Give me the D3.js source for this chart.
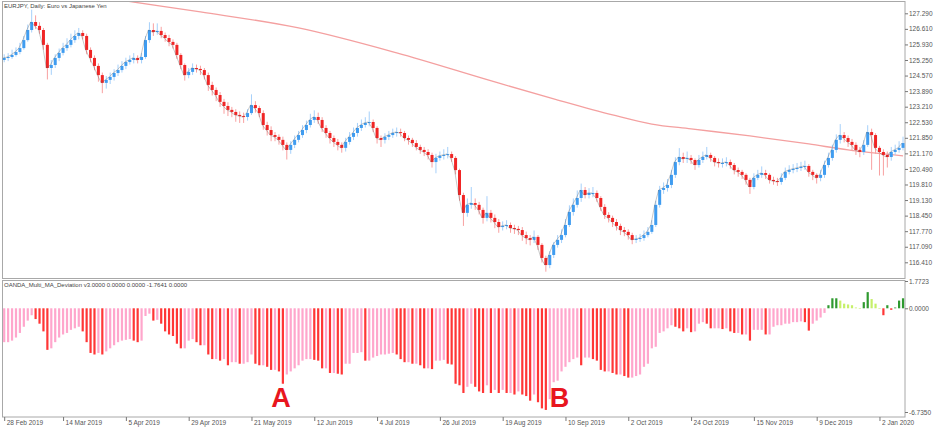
<!DOCTYPE html>
<html><head><meta charset="utf-8">
<script src="https://cdn.jsdelivr.net/npm/d3@7"></script>
<style>
body{margin:0;background:#fff}
svg{display:block}
text{font-family:"Liberation Sans",Arial,sans-serif}
</style>
</head><body><svg id="c" width="940" height="442"></svg>
<script>
const chartTitle = "EURJPY, Daily:  Euro vs Japanese Yen";
const indicatorTitle = "OANDA_Multi_MA_Deviation v3.0000 0.0000 0.0000 -1.7641 0.0000";

const opens = [
125.25,125.34,125.38,125.47,125.60,125.77,126.12,126.56,126.91,126.74,
126.56,125.91,124.90,125.03,125.34,125.56,125.77,125.91,126.12,126.30,
126.43,126.30,125.69,125.34,124.99,124.59,124.25,124.38,124.51,124.68,
124.81,124.99,125.16,125.25,125.34,125.25,125.38,126.12,126.56,126.47,
126.52,126.34,126.21,126.04,125.91,125.47,125.03,124.59,124.73,124.90,
124.86,124.81,124.59,124.16,123.94,123.72,123.42,123.24,123.07,122.98,
122.85,122.80,122.76,122.93,123.28,123.15,122.93,122.41,122.19,121.97,
121.89,121.76,121.54,121.32,121.54,121.76,121.97,122.19,122.41,122.63,
122.76,122.63,122.28,122.06,121.84,121.67,121.54,121.41,121.67,121.89,
122.06,122.28,122.41,122.50,122.54,122.28,121.84,121.76,121.89,121.97,
122.06,122.10,122.06,121.84,121.76,121.62,121.45,121.32,121.23,121.10,
120.79,120.97,121.06,121.10,121.14,120.97,120.44,119.35,118.57,118.92,
119.00,118.92,118.70,118.35,118.57,118.35,118.17,117.95,118.00,118.04,
117.91,117.87,117.82,117.60,117.47,117.39,117.52,117.17,116.60,116.29,
116.73,117.17,117.39,117.60,118.04,118.61,118.92,119.22,119.57,119.35,
119.44,119.44,119.22,118.83,118.48,118.35,118.17,118.00,117.82,117.74,
117.60,117.39,117.43,117.47,117.60,117.74,118.04,118.92,119.57,119.66,
119.79,120.23,120.79,121.01,120.93,120.97,120.88,120.66,120.88,121.01,
121.10,120.97,120.79,120.75,120.75,120.79,120.66,120.44,120.36,120.23,
120.01,119.70,120.10,120.23,120.31,120.23,120.01,119.96,119.92,120.10,
120.36,120.44,120.49,120.53,120.58,120.62,120.36,120.23,120.10,120.23,
120.66,120.97,121.32,121.76,121.97,121.84,121.67,121.54,121.32,121.23,
121.54,122.10,121.97,121.41,121.23,121.10,121.01,121.23,121.32,121.41];

const closes = [
125.34,125.38,125.47,125.60,125.77,126.12,126.56,126.91,126.74,126.56,
125.91,124.90,125.03,125.34,125.56,125.77,125.91,126.12,126.30,126.43,
126.30,125.69,125.34,124.99,124.59,124.25,124.38,124.51,124.68,124.81,
124.99,125.16,125.25,125.34,125.25,125.38,126.12,126.56,126.47,126.52,
126.34,126.21,126.04,125.91,125.47,125.03,124.59,124.73,124.90,124.86,
124.81,124.59,124.16,123.94,123.72,123.42,123.24,123.07,122.98,122.85,
122.80,122.76,122.93,123.28,123.15,122.93,122.41,122.19,121.97,121.89,
121.76,121.54,121.32,121.54,121.76,121.97,122.19,122.41,122.63,122.76,
122.63,122.28,122.06,121.84,121.67,121.54,121.41,121.67,121.89,122.06,
122.28,122.41,122.50,122.54,122.28,121.84,121.76,121.89,121.97,122.06,
122.10,122.06,121.84,121.76,121.62,121.45,121.32,121.23,121.10,120.79,
120.97,121.06,121.10,121.14,120.97,120.44,119.35,118.57,118.92,119.00,
118.92,118.70,118.35,118.57,118.35,118.17,117.95,118.00,118.04,117.91,
117.87,117.82,117.60,117.47,117.39,117.52,117.17,116.60,116.29,116.73,
117.17,117.39,117.60,118.04,118.61,118.92,119.22,119.57,119.35,119.44,
119.44,119.22,118.83,118.48,118.35,118.17,118.00,117.82,117.74,117.60,
117.39,117.43,117.47,117.60,117.74,118.04,118.92,119.57,119.66,119.79,
120.23,120.79,121.01,120.93,120.97,120.88,120.66,120.88,121.01,121.10,
120.97,120.79,120.75,120.75,120.79,120.66,120.44,120.36,120.23,120.01,
119.70,120.10,120.23,120.31,120.23,120.01,119.96,119.92,120.10,120.36,
120.44,120.49,120.53,120.58,120.62,120.36,120.23,120.10,120.23,120.66,
120.97,121.32,121.76,121.97,121.84,121.67,121.54,121.32,121.23,121.54,
122.10,121.97,121.41,121.23,121.10,121.01,121.23,121.32,121.41,121.62];

const highs = [
125.50,125.55,125.70,125.80,126.00,126.30,126.80,127.45,127.20,126.90,
126.65,126.00,125.25,125.50,125.75,126.00,126.20,126.40,126.55,126.65,
126.55,126.40,125.80,125.45,125.10,124.70,124.55,124.70,124.85,125.05,
125.20,125.35,125.45,125.55,125.45,125.55,126.30,126.90,126.85,126.85,
126.70,126.45,126.35,126.15,126.00,125.55,125.10,124.90,125.10,125.05,
125.00,124.90,124.70,124.30,124.05,123.85,123.55,123.40,123.20,123.10,
123.00,122.95,123.10,123.75,123.45,123.25,123.05,122.55,122.35,122.10,
122.00,121.90,121.65,121.70,121.95,122.15,122.40,122.60,122.90,123.05,
122.95,122.75,122.40,122.15,121.95,121.80,121.65,121.85,122.10,122.30,
122.50,122.65,122.75,123.00,122.65,122.35,121.95,122.05,122.15,122.25,
122.30,122.25,122.15,121.95,121.85,121.75,121.55,121.45,121.35,121.20,
121.15,121.25,121.35,121.45,121.25,121.05,120.50,119.45,119.20,119.70,
119.20,119.05,118.80,119.30,118.70,118.50,118.30,118.20,118.25,118.15,
118.05,118.00,117.95,117.75,117.60,117.80,117.60,117.25,116.70,116.90,
117.30,117.60,117.85,118.30,118.90,119.20,119.55,119.85,119.70,119.65,
119.70,119.55,119.30,118.95,118.60,118.45,118.30,118.10,117.95,117.85,
117.70,117.60,117.65,117.80,117.95,118.25,119.10,119.75,119.90,120.05,
120.45,121.00,121.40,121.20,121.25,121.10,120.95,121.10,121.25,121.45,
121.20,121.05,120.95,120.95,121.00,120.90,120.75,120.55,120.45,120.30,
120.10,120.30,120.45,120.60,120.45,120.30,120.15,120.10,120.30,120.55,
120.65,120.70,120.75,120.80,120.85,120.70,120.45,120.30,120.45,120.85,
121.20,121.55,122.00,122.45,122.10,121.95,121.80,121.65,121.45,121.75,
122.40,122.25,122.05,121.50,121.35,121.25,121.45,121.55,121.70,121.90];

const lows = [
125.15,125.20,125.30,125.40,125.50,125.70,126.05,126.45,126.60,126.40,
125.70,124.40,124.60,124.90,125.20,125.45,125.65,125.80,126.00,126.15,
126.15,125.50,125.15,124.80,124.30,123.80,124.00,124.20,124.35,124.55,
124.70,124.85,125.05,125.10,125.10,125.10,125.30,126.00,126.30,126.35,
126.20,126.05,125.85,125.75,125.30,124.85,124.35,124.45,124.60,124.70,
124.60,124.40,123.90,123.70,123.45,123.20,122.90,122.80,122.75,122.55,
122.50,122.50,122.60,122.85,122.95,122.75,122.20,121.95,121.70,121.70,
121.55,121.30,120.90,121.15,121.40,121.65,121.85,122.05,122.30,122.50,
122.45,122.10,121.85,121.60,121.45,121.30,121.20,121.25,121.55,121.75,
121.90,122.15,122.30,122.35,122.10,121.60,121.45,121.60,121.75,121.85,
121.90,121.90,121.70,121.55,121.45,121.30,121.15,121.05,120.90,120.55,
120.30,120.85,120.90,120.95,120.80,120.25,119.10,118.00,118.40,118.75,
118.70,118.50,118.10,118.20,118.15,117.90,117.70,117.80,117.85,117.70,
117.65,117.60,117.35,117.20,117.15,117.25,116.95,116.40,116.00,116.15,
116.60,117.05,117.25,117.50,117.95,118.45,118.80,119.05,119.20,119.20,
119.25,119.05,118.65,118.30,118.15,117.95,117.80,117.60,117.55,117.40,
117.20,117.25,117.30,117.35,117.50,117.65,117.95,118.80,119.40,119.50,
119.65,120.10,120.65,120.75,120.75,120.70,120.45,120.55,120.75,120.90,
120.80,120.60,120.55,120.55,120.60,120.50,120.25,120.15,120.05,119.80,
119.40,119.60,120.00,120.10,120.05,119.85,119.80,119.75,119.80,120.00,
120.25,120.30,120.35,120.40,120.45,120.15,120.00,119.85,119.95,120.10,
120.55,120.85,121.20,121.60,121.65,121.45,121.30,121.10,121.00,121.10,
121.45,120.45,121.15,120.20,120.20,120.55,120.85,121.10,121.20,121.30];

// long moving average (pink line), read at a few bars
const maBars = [0,33,50,75,100,125,140,155,165,175,190,205,215,229];
const maValues = [128.66,127.78,127.35,126.65,125.56,124.29,123.55,122.85,122.45,122.24,121.93,121.58,121.32,121.06];

// MA deviation histogram
const devValues = [
-2.2,-2.2,-2.1,-1.9,-1.6,-1.2,-0.8,-0.45,-0.7,-1.0,
-1.5,-2.7,-2.6,-2.2,-1.9,-1.7,-1.6,-1.4,-1.3,-1.2,
-1.5,-2.2,-2.9,-3.0,-2.9,-3.0,-2.8,-2.6,-2.4,-2.2,
-2.1,-2.05,-2.0,-2.1,-2.2,-2.1,-0.5,-0.35,-0.8,-0.75,
-1.0,-1.5,-1.7,-1.8,-2.3,-2.6,-2.6,-2.1,-2.0,-2.2,
-2.4,-2.4,-3.0,-3.3,-3.3,-3.4,-3.3,-3.7,-3.5,-3.5,
-3.6,-3.6,-3.5,-3.0,-3.6,-3.7,-3.7,-3.8,-4.0,-4.0,
-4.1,-4.9,-4.3,-4.1,-3.9,-3.7,-3.4,-3.3,-3.3,-3.35,
-3.4,-3.9,-3.9,-4.2,-4.2,-4.25,-4.3,-3.6,-3.6,-2.9,
-2.9,-2.85,-3.4,-3.4,-3.2,-3.1,-3.0,-3.0,-2.95,-2.9,
-3.0,-3.3,-3.5,-3.5,-3.6,-3.6,-3.7,-3.9,-3.9,-3.95,
-3.4,-3.4,-3.35,-3.6,-3.65,-4.9,-5.0,-5.5,-5.1,-4.9,
-5.1,-5.4,-5.5,-5.0,-5.5,-5.3,-5.5,-5.3,-5.5,-5.5,
-5.6,-5.4,-5.6,-5.7,-6.0,-5.6,-6.1,-6.5,-6.6,-5.9,
-4.8,-4.7,-4.1,-3.8,-3.5,-3.3,-3.2,-3.7,-3.2,-3.2,
-3.3,-3.4,-4.0,-4.1,-4.1,-4.2,-4.3,-4.3,-4.4,-4.5,
-4.5,-4.4,-4.3,-3.8,-3.6,-2.6,-2.5,-1.6,-1.5,-1.3,
-1.1,-1.2,-1.3,-1.5,-1.3,-1.55,-1.5,-1.0,-0.9,-1.0,
-1.3,-1.3,-1.3,-1.35,-1.3,-1.5,-1.6,-1.6,-1.7,-1.7,
-2.1,-1.4,-1.4,-1.4,-1.7,-1.7,-1.2,-1.1,-1.1,-1.0,
-1.0,-0.9,-0.9,-0.85,-0.9,-1.45,-1.0,-0.8,-0.6,-0.3,
0.2,0.65,0.65,0.5,0.3,0.25,0.2,0.05,0.02,0.4,
1.05,0.6,0.3,0.0,-0.45,0.2,-0.1,0.05,0.5,0.65];

const priceTicks = [127.29,126.61,125.93,125.25,124.57,123.89,123.21,122.53,121.85,121.17,120.49,119.81,119.13,118.45,117.77,117.09,116.41];
const devTicks = [1.7723, 0, -6.735];
const dateBars = [0,15,31,47,63,79,95,111,127,143,159,175,191,207,223];
const dateLabels = ["28 Feb 2019","14 Mar 2019","5 Apr 2019","29 Apr 2019","21 May 2019","12 Jun 2019","4 Jul 2019","26 Jul 2019","19 Aug 2019","10 Sep 2019","2 Oct 2019","24 Oct 2019","15 Nov 2019","9 Dec 2019","2 Jan 2020"];
const markers = [{label:"A", bar:71}, {label:"B", bar:141.5}];

// ---------- drawing ----------
const svg = d3.select("#c");
const n = closes.length;
const x = d3.scaleLinear().domain([0, n-1]).range([4.2, 4.2 + (n-1)*3.925]);
const y = d3.scaleLinear().domain([116.41, 127.29]).range([262.3, 13.3]);
const yd = d3.scaleLinear().domain([-6.735, 1.7723]).range([412, 281]);

const defs = svg.append("defs");
defs.append("clipPath").attr("id","clipMain").append("rect").attr("x",2.5).attr("y",2).attr("width",902.5).attr("height",276);
defs.append("clipPath").attr("id","clipDev").append("rect").attr("x",2.5).attr("y",281).attr("width",902.5).attr("height",136);

// frames
svg.append("rect").attr("x",2.5).attr("y",1.5).attr("width",902.5).attr("height",277).attr("fill","none").attr("stroke","#a8a8a8");
svg.append("rect").attr("x",2.5).attr("y",280.5).attr("width",902.5).attr("height",136.5).attr("fill","none").attr("stroke","#a8a8a8");

const main = svg.append("g").attr("clip-path","url(#clipMain)");

// long MA
main.append("path")
  .datum(maBars.map((b,k)=>[b, maValues[k]]))
  .attr("d", d3.line().x(d=>x(d[0])).y(d=>y(d[1])).curve(d3.curveMonotoneX))
  .attr("fill","none").attr("stroke","#f4a0a0").attr("stroke-width",1.3);

const bars = d3.range(n);
// wicks
main.append("g").selectAll("line").data(bars).join("line")
  .attr("x1", i=>x(i)).attr("x2", i=>x(i))
  .attr("y1", i=>y(highs[i])).attr("y2", i=>y(lows[i]))
  .attr("stroke", i=> closes[i]>=opens[i] ? "#a6d0fa" : "#f8a0a0")
  .attr("stroke-width",1);
// bodies
main.append("g").selectAll("rect").data(bars).join("rect")
  .attr("x", i=>x(i)-1.5).attr("width",3)
  .attr("y", i=>y(Math.max(opens[i],closes[i])))
  .attr("height", i=>Math.max(1, Math.abs(y(opens[i])-y(closes[i]))))
  .attr("fill", i=> closes[i]>=opens[i] ? "#3f9cf0" : "#f02525");

// thin close line
main.append("path").datum(bars)
  .attr("d", d3.line().x(i=>x(i)-1).y(i=>y(closes[i])))
  .attr("fill","none").attr("stroke","#555").attr("stroke-width",0.6).attr("opacity",0.55);

// title
svg.append("text").attr("x",4).attr("y",8).attr("font-size",6).attr("fill","#444").text(chartTitle);

// price axis
const pa = svg.append("g").attr("transform","translate(905,0)")
  .call(d3.axisRight(y).tickValues(priceTicks).tickSize(3).tickFormat(d=>d.toFixed(3)));
pa.select(".domain").remove();
pa.selectAll("line").attr("stroke","#777");
pa.selectAll("text").attr("font-size",6.5).attr("fill","#555").attr("x",4).attr("font-family","Liberation Sans, Arial, sans-serif");

// deviation histogram
const dev = svg.append("g").attr("clip-path","url(#clipDev)");
function devColor(i){
  const v = devValues[i], p = i>0 ? devValues[i-1] : v;
  if (v >= 0) return v >= p ? "#2f9a2f" : "#c6f06a";
  return v < p ? "#ff3636" : "#ffa6cc";
}
dev.selectAll("rect").data(bars).join("rect")
  .attr("x", i=>x(i)-1.1).attr("width",2.2)
  .attr("y", i=>Math.min(yd(0), yd(devValues[i])))
  .attr("height", i=>Math.max(0.6, Math.abs(yd(devValues[i])-yd(0))))
  .attr("fill", devColor);

svg.append("text").attr("x",4).attr("y",287).attr("font-size",6).attr("fill","#444").text(indicatorTitle);

const da = svg.append("g").attr("transform","translate(905,0)")
  .call(d3.axisRight(yd).tickValues(devTicks).tickSize(3).tickFormat(d=>d.toFixed(4)));
da.select(".domain").remove();
da.selectAll("line").attr("stroke","#777");
da.selectAll("text").attr("font-size",6.5).attr("fill","#555").attr("x",4).attr("font-family","Liberation Sans, Arial, sans-serif");

// date axis
const xa = svg.append("g").attr("transform","translate(0,417)")
  .call(d3.axisBottom(x).tickValues(dateBars).tickSize(4).tickFormat((d,k)=>dateLabels[k]));
xa.select(".domain").remove();
xa.selectAll("line").attr("stroke","#777");
xa.selectAll("text").attr("font-size",6.5).attr("fill","#555").attr("text-anchor","start")
  .attr("x",2).attr("y",3).attr("dy","0.71em").attr("font-family","Liberation Sans, Arial, sans-serif");

// markers A / B
svg.append("g").selectAll("text").data(markers).join("text")
  .attr("x", d=>x(d.bar)+ (d.label==="A"? -2 : 0)).attr("y",407)
  .attr("text-anchor","middle").attr("font-size",27).attr("font-weight","bold")
  .attr("fill","#e8161e").text(d=>d.label);
</script>
</body></html>
